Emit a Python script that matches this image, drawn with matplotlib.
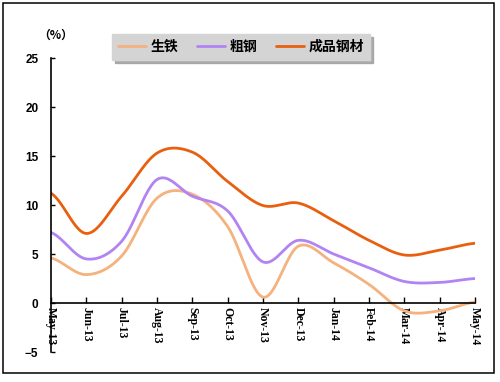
import numpy as np
import matplotlib.pyplot as plt
from matplotlib.patches import Rectangle

months = ['May-13', 'Jun-13', 'Jul-13', 'Aug-13', 'Sep-13', 'Oct-13', 'Nov-13',
          'Dec-13', 'Jan-14', 'Feb-14', 'Mar-14', 'Apr-14', 'May-14']
pig_iron = [4.6, 2.9, 4.8, 10.7, 11.1, 7.8, 0.6, 5.8, 4.1, 1.9, -0.8, -0.8, 0.1]
crude_steel = [7.2, 4.5, 6.3, 12.6, 10.9, 9.4, 4.2, 6.4, 5.0, 3.6, 2.2, 2.1, 2.5]
steel_products = [11.2, 7.1, 10.9, 15.3, 15.4, 12.4, 9.95, 10.2, 8.4, 6.4, 4.9, 5.4, 6.1]

labels = ['生铁', '粗钢', '成品钢材']
colors = ['#F5B17E', '#B283F2', '#E8600F']


def smooth(y, n=30):
    # Excel style smoothed line (Catmull-Rom between the points)
    y = np.asarray(y, dtype=float)
    p = np.concatenate([[y[0]], y, [y[-1]]])
    xs, ys = [], []
    t = np.linspace(0, 1, n, endpoint=False)
    for i in range(len(y) - 1):
        p0, p1, p2, p3 = p[i], p[i + 1], p[i + 2], p[i + 3]
        c1 = p1 + (p2 - p0) / 6
        c2 = p2 - (p3 - p1) / 6
        b = (1 - t) ** 3 * p1 + 3 * (1 - t) ** 2 * t * c1 + 3 * (1 - t) * t ** 2 * c2 + t ** 3 * p2
        xs.append(i + t)
        ys.append(b)
    xs.append([len(y) - 1])
    ys.append([y[-1]])
    return np.concatenate(xs), np.concatenate(ys)


fig = plt.figure(figsize=(5, 3.82), dpi=100)
ax = fig.add_axes([0.102, 0.0785, 0.848, 0.7695])

for vals, lab, col in zip([pig_iron, crude_steel, steel_products], labels, colors):
    sx, sy = smooth(vals)
    ax.plot(sx, sy, color=col, lw=2, label=lab, solid_capstyle='round')

ax.set_xlim(0, len(months) - 1)
ax.set_ylim(-5, 25)
ax.set_yticks(range(-5, 26, 5))
ax.set_xticks(range(len(months)))
ax.set_xticklabels(months)

ax.spines['top'].set_visible(False)
ax.spines['right'].set_visible(False)
ax.spines['bottom'].set_position(('data', 0))
ax.spines['bottom'].set_linewidth(1.2)
ax.spines['left'].set_linewidth(1.2)
ax.tick_params(axis='y', direction='in', length=3, width=1, pad=9)
ax.tick_params(axis='x', direction='in', length=4, width=1, pad=3)

for lbl in ax.get_yticklabels():
    lbl.set_fontfamily('Liberation Sans')
    lbl.set_fontweight('bold')
    lbl.set_fontsize(8.5)
for lbl in ax.get_xticklabels():
    lbl.set_fontfamily('Liberation Serif')
    lbl.set_fontweight('bold')
    lbl.set_fontsize(8.5)
    lbl.set_rotation(-90)
    lbl.set_va('top')
    lbl.set_ha('center')

fig.text(0.112, 1 - 35 / 382, '（%）', fontfamily=['Noto Sans CJK SC', 'DejaVu Sans'],
         fontweight='bold', fontsize=8.5, ha='center', va='center')

leg = fig.legend(loc='center', bbox_to_anchor=(0.482, 1 - 47 / 382), ncol=3,
                 frameon=True, shadow={'color': '#9A9A9A', 'alpha': 0.8},
                 fancybox=False, handlelength=2.0,
                 columnspacing=1.4, handletextpad=0.3, borderpad=0.45,
                 prop={'family': ['Noto Sans CJK SC', 'DejaVu Sans'],
                       'weight': 'bold', 'size': 10})
leg.get_frame().set_facecolor('#D4D4D4')
leg.get_frame().set_edgecolor('#D4D4D4')
leg.get_frame().set_alpha(1)

fig.patches.append(Rectangle((3 / 500, 1 - 373 / 382), 491 / 500, 370 / 382,
                             transform=fig.transFigure, fill=False,
                             edgecolor='black', lw=1.1))

fig.savefig('out.png', dpi=100)
